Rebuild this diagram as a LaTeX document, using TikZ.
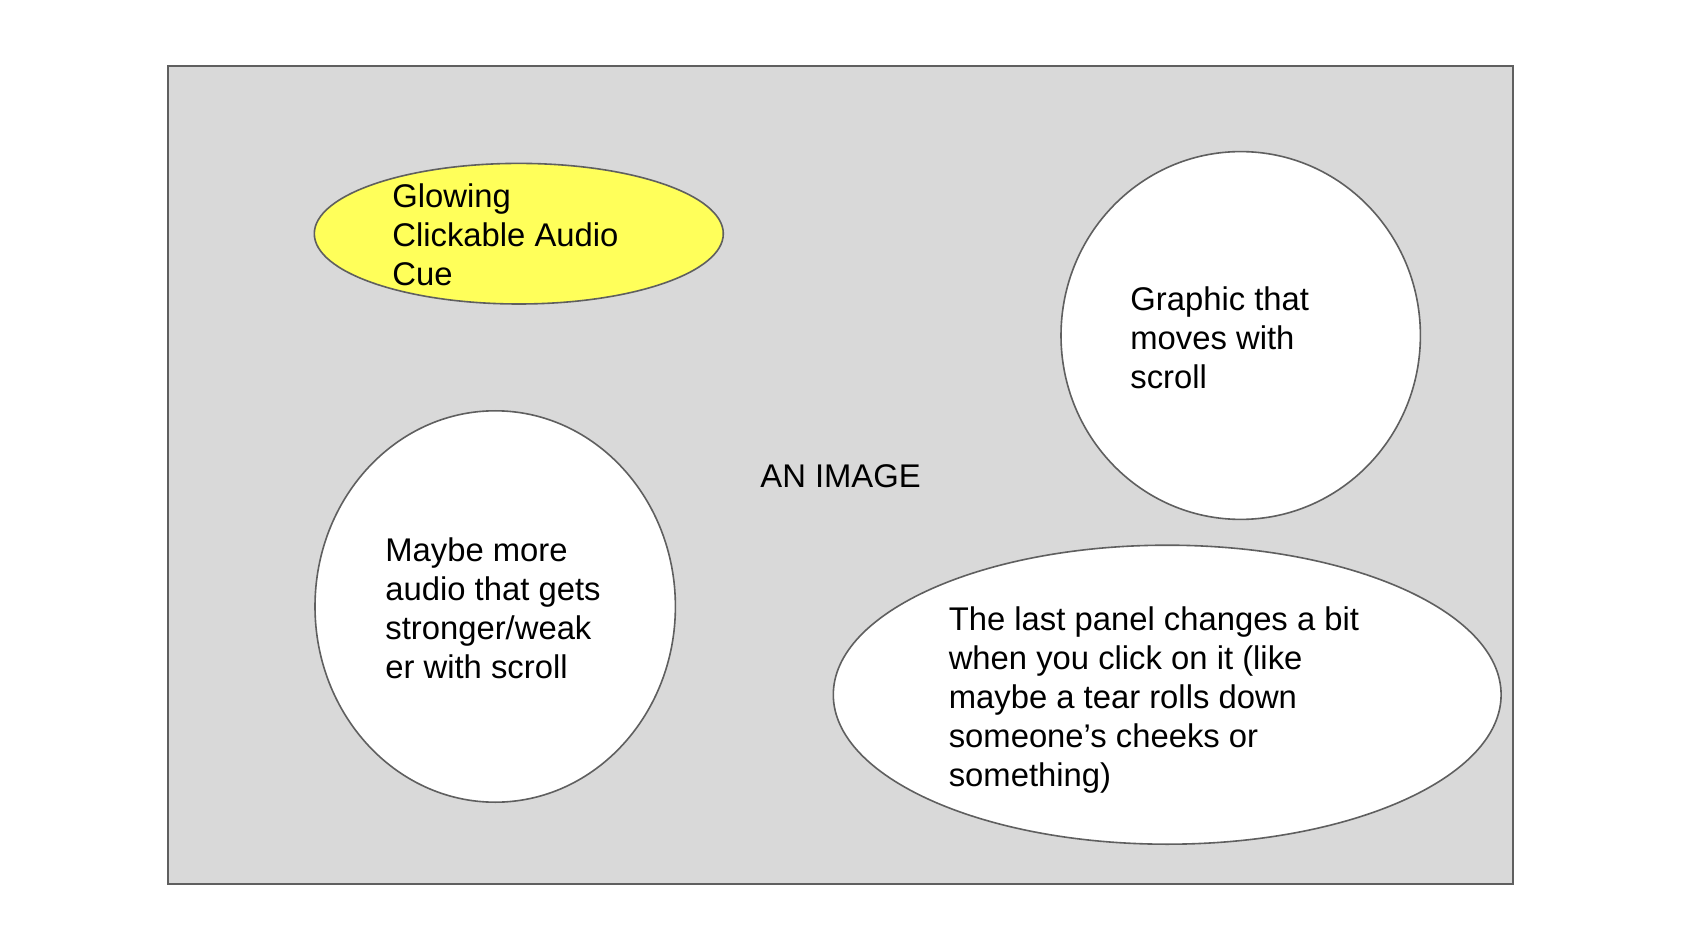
\documentclass[tikz,border=0pt]{standalone}
\usepackage{fontspec}
\setmainfont{Liberation Sans}
\usetikzlibrary{shapes.geometric}
\definecolor{panelgray}{HTML}{D9D9D9}
\definecolor{edgegray}{HTML}{5F5F5F}
\definecolor{cueyellow}{HTML}{FFFF5A}
\begin{document}
\begin{tikzpicture}[x=0.5pt,y=-0.5pt,
  blob/.style={ellipse,draw=edgegray,line width=0.8pt,fill=white,inner sep=0pt},
  note/.style={align=left,anchor=base west,inner sep=0pt,
    font=\fontsize{16.4pt}{19.5pt}\selectfont}]
\useasboundingbox (0,0) rectangle (1686,946);
% Draw the image frame
\draw[draw=edgegray,fill=panelgray,line width=1pt] (168.3,65.7) rectangle (1513,884);
% Draw the panels
\node[blob,fill=cueyellow,minimum width=204.5pt,minimum height=70.3pt] (cue) at (518.8,233.7) {};
\node[blob,minimum width=179.7pt,minimum height=183.9pt] (graphic) at (1240.7,335.5) {};
\node[blob,minimum width=180.2pt,minimum height=195.7pt] (audio) at (495.2,606.5) {};
\node[blob,minimum width=333.9pt,minimum height=149.5pt] (last) at (1167.2,694.7) {};
% Texts (placed at the baseline of their last line)
\node[note] (cuetext) at (392,286) {Glowing\\Clickable Audio\\Cue};
\node[note] (graphictext) at (1130,388.5) {Graphic that\\moves with\\scroll};
\node[note] (image) at (760,487.6) {AN IMAGE};
\node[note] (audiotext) at (385,678.8) {Maybe more\\audio that gets\\stronger/weak\\er with scroll};
\node[note] (lasttext) at (948.4,786.6) {The last panel changes a bit\\when you click on it (like\\maybe a tear rolls down\\someone’s cheeks or\\something)};
\end{tikzpicture}
\end{document}
